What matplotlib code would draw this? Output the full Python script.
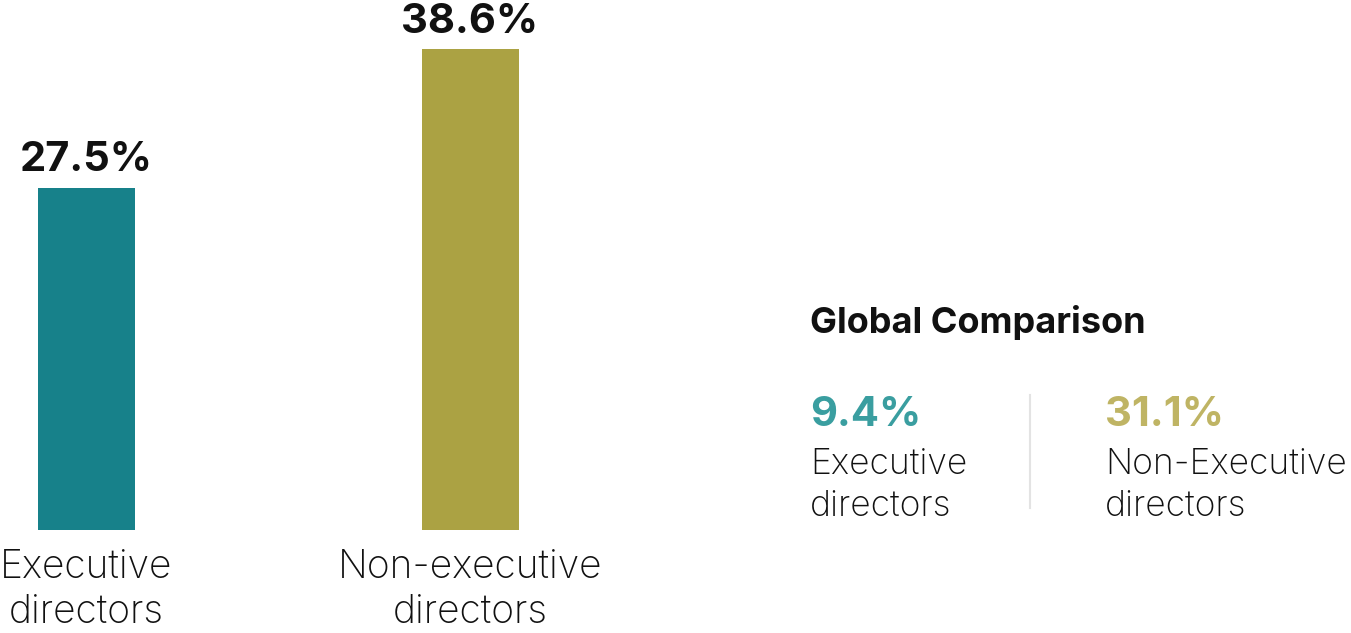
import numpy as np
import matplotlib.pyplot as plt
from matplotlib.lines import Line2D

plt.rcParams['font.family'] = ['Inter', 'DejaVu Sans']

# board share of women, local market
Categories = ["Executive\ndirectors", "Non-executive\ndirectors"]
Values = [27.5, 38.6]
BarColors = ["#17818A", "#ABA243"]

# global comparison panel
GlobalTitle = "Global Comparison"
GlobalLabels = ["Executive\ndirectors", "Non-Executive\ndirectors"]
GlobalValues = [9.4, 31.1]
GlobalColors = ["#3A9EA0", "#BFB464"]

W, H = 1351, 633
fig = plt.figure(figsize=(W/100, H/100), dpi=100)

# bar axes, placed in pixels
ax = fig.add_axes([0, 103/H, 560/W, 530/H])
X = np.arange(len(Values))
ax.bar(X, Values, width=97/384, color=BarColors)
ax.set_xlim(-86/384, -86/384 + 560/384)
ax.set_ylim(0, 530/12.45)
ax.axis("off")

for x, v in zip(X, Values):
    ax.text(x, v + 1.35, "%.1f%%" % v, ha="center", va="baseline",
            fontsize=30, fontweight="bold", color="#111111")

for x, c in zip(X, Categories):
    ax.text(x, -1.5, c, ha="center", va="top", fontsize=28,
            fontweight="light", color="#111111", linespacing=1.28)

# right hand panel
fig.text(810/W, 1 - 322/H, GlobalTitle, ha="left", va="center",
         fontsize=26, fontweight="bold", color="#111111")

Xpos = [810, 1105]
for xp, v, lab, col in zip(Xpos, GlobalValues, GlobalLabels, GlobalColors):
    fig.text(xp/W, 1 - 415/H, "%.1f%%" % v, ha="left", va="center",
             fontsize=30, fontweight="bold", color=col)
    fig.text(xp/W, 1 - 448/H, lab, ha="left", va="top", fontsize=25.5,
             fontweight="light", color="#111111", linespacing=1.32)

fig.add_artist(Line2D([1030/W, 1030/W], [1 - 395/H, 1 - 508/H],
                      color="#E3E3E3", lw=1.5, transform=fig.transFigure))

fig.savefig("out.png", dpi=100, facecolor="white")
